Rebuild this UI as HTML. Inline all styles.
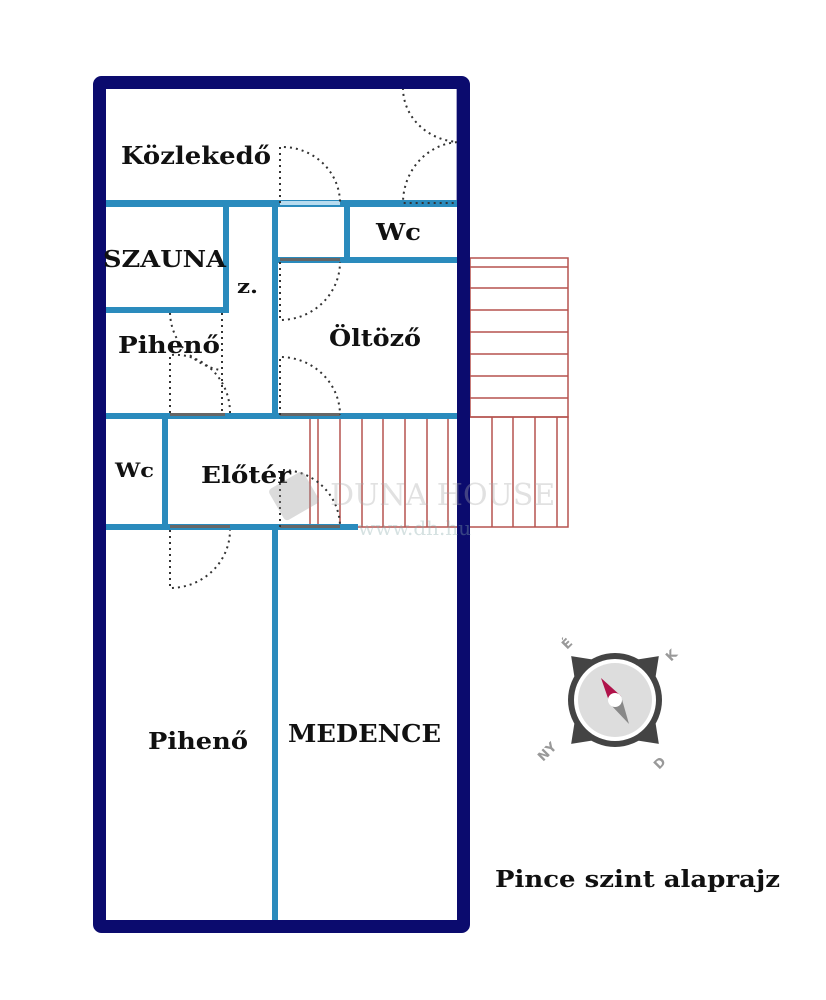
<!DOCTYPE html>
<html><head><meta charset="utf-8"><style>
html,body{margin:0;padding:0;background:#fff;}
svg{display:block;}
text{font-family:"DejaVu Serif","Liberation Serif",serif;font-weight:bold;fill:#111;}
</style></head><body>
<svg width="826" height="1000" viewBox="0 0 826 1000" xmlns="http://www.w3.org/2000/svg">
<rect width="826" height="1000" fill="#fff"/>
<!-- stairs -->
<g fill="none" stroke="#b5524f" stroke-width="1.5">
<rect x="470" y="258" width="98" height="159"/>
<line x1="470" y1="267" x2="568" y2="267"/>
<line x1="470" y1="288" x2="568" y2="288"/>
<line x1="470" y1="310" x2="568" y2="310"/>
<line x1="470" y1="332" x2="568" y2="332"/>
<line x1="470" y1="354" x2="568" y2="354"/>
<line x1="470" y1="376" x2="568" y2="376"/>
<line x1="470" y1="398" x2="568" y2="398"/>
<rect x="310" y="417" width="258" height="110"/>
<line x1="318" y1="417" x2="318" y2="527"/>
<line x1="340" y1="417" x2="340" y2="527"/>
<line x1="362" y1="417" x2="362" y2="527"/>
<line x1="383" y1="417" x2="383" y2="527"/>
<line x1="405" y1="417" x2="405" y2="527"/>
<line x1="427" y1="417" x2="427" y2="527"/>
<line x1="448" y1="417" x2="448" y2="527"/>
<line x1="492" y1="417" x2="492" y2="527"/>
<line x1="513" y1="417" x2="513" y2="527"/>
<line x1="535" y1="417" x2="535" y2="527"/>
<line x1="557" y1="417" x2="557" y2="527"/>
</g>
<!-- entrance strip -->
<rect x="456" y="82" width="7" height="122" fill="#a9a7cc"/>
<!-- interior walls -->
<g fill="#2a8bbd">
<rect x="106" y="200" width="351" height="7"/>
<rect x="223" y="200" width="6" height="113"/>
<rect x="106" y="307" width="123" height="6"/>
<rect x="272" y="200" width="6" height="219"/>
<rect x="344" y="200" width="6" height="62"/>
<rect x="272" y="257" width="185" height="6"/>
<rect x="106" y="413" width="351" height="6"/>
<rect x="162" y="413" width="6" height="117"/>
<rect x="106" y="524" width="252" height="6"/>
<rect x="272" y="524" width="6" height="398"/>
</g>
<!-- door leaves -->
<g fill="#666">
<rect x="280" y="201" width="60" height="4" fill="#b8dcef"/>
<rect x="280" y="258" width="60" height="3"/>
<rect x="280" y="413" width="60" height="3"/>
<rect x="170" y="413" width="55" height="3"/>
<rect x="170" y="525" width="60" height="3"/>
<rect x="280" y="525" width="60" height="3"/>
</g>
<!-- door arcs dotted -->
<g fill="none" stroke="#333" stroke-width="2" stroke-dasharray="2 4">
<path d="M280 203 V147 A58 56 0 0 1 340 203"/>
<path d="M403 88 A58 54 0 0 0 460 142 A58 61 0 0 0 403 203 H457"/>
<path d="M280 262 V320 A60 58 0 0 0 340 262"/>
<path d="M280 415 V357 A60 58 0 0 1 340 415"/>
<path d="M170 413 V355 A55 58 0 0 1 230 413"/>
<path d="M222 313 V413"/>
<path d="M170 313 A62 60 0 0 0 220 370"/>
<path d="M170 530 V588 A60 58 0 0 0 230 530"/>
<path d="M280 527 V470 A58 57 0 0 1 340 527"/>
</g>
<!-- outer wall -->
<rect x="99.5" y="82.5" width="364" height="844" fill="none" stroke="#0b0b6e" stroke-width="13" rx="2"/>
<!-- labels -->
<g lengthAdjust="spacingAndGlyphs">
<text x="121" y="164" font-size="24" textLength="150" lengthAdjust="spacingAndGlyphs">Közlekedő</text>
<text x="376" y="240" font-size="23" textLength="45" lengthAdjust="spacingAndGlyphs">Wc</text>
<text x="103" y="267" font-size="23" textLength="123" lengthAdjust="spacingAndGlyphs">SZAUNA</text>
<text x="237" y="293" font-size="20" textLength="21" lengthAdjust="spacingAndGlyphs">z.</text>
<text x="118" y="353" font-size="23" textLength="102" lengthAdjust="spacingAndGlyphs">Pihenő</text>
<text x="329" y="346" font-size="23" textLength="92" lengthAdjust="spacingAndGlyphs">Öltöző</text>
<text x="115" y="477" font-size="20" textLength="39" lengthAdjust="spacingAndGlyphs">Wc</text>
<text x="201" y="483" font-size="23" textLength="90" lengthAdjust="spacingAndGlyphs">Előtér</text>
<text x="148" y="749" font-size="23" textLength="100" lengthAdjust="spacingAndGlyphs">Pihenő</text>
<text x="288" y="742" font-size="24" textLength="153" lengthAdjust="spacingAndGlyphs">MEDENCE</text>
<text x="495" y="887" font-size="23" textLength="285" lengthAdjust="spacingAndGlyphs">Pince szint alaprajz</text>
</g>
<!-- watermark -->
<g opacity="0.35">
<rect x="274" y="478" width="40" height="36" fill="#999" transform="rotate(-30 294 496)" rx="4"/>
<text x="330" y="505" font-size="30" style="fill:#aaa;font-weight:normal">DUNA HOUSE</text>
<text x="358" y="535" font-size="20" style="fill:#8aa;font-weight:normal">www.dh.hu</text>
</g>
<!-- compass -->
<g transform="translate(615,700)">
<g transform="rotate(45)" fill="#444">
<polygon points="0,-62 -16,-40 16,-40"/>
<polygon points="0,62 -16,40 16,40"/>
<polygon points="-62,0 -40,-16 -40,16"/>
<polygon points="62,0 40,-16 40,16"/>
</g>
<circle r="47" fill="#444"/>
<circle r="41" fill="#fff"/>
<circle r="37" fill="#ddd"/>
<polygon points="-14,-22 -5,4 6,-4" fill="#b0124a"/>
<polygon points="14,24 -5,4 6,-4" fill="#888"/>
<circle r="7" fill="#fff"/>
<text x="-48" y="-50" font-size="13" style="fill:#999;font-family:'DejaVu Sans',sans-serif" transform="rotate(-45 -48 -50)">É</text>
<text x="56" y="-38" font-size="13" style="fill:#999;font-family:'DejaVu Sans',sans-serif" transform="rotate(-45 56 -38)">K</text>
<text x="-72" y="62" font-size="13" style="fill:#999;font-family:'DejaVu Sans',sans-serif" transform="rotate(-45 -72 62)">NY</text>
<text x="44" y="70" font-size="13" style="fill:#999;font-family:'DejaVu Sans',sans-serif" transform="rotate(-45 44 70)">D</text>
</g>
</svg>
</body></html>
